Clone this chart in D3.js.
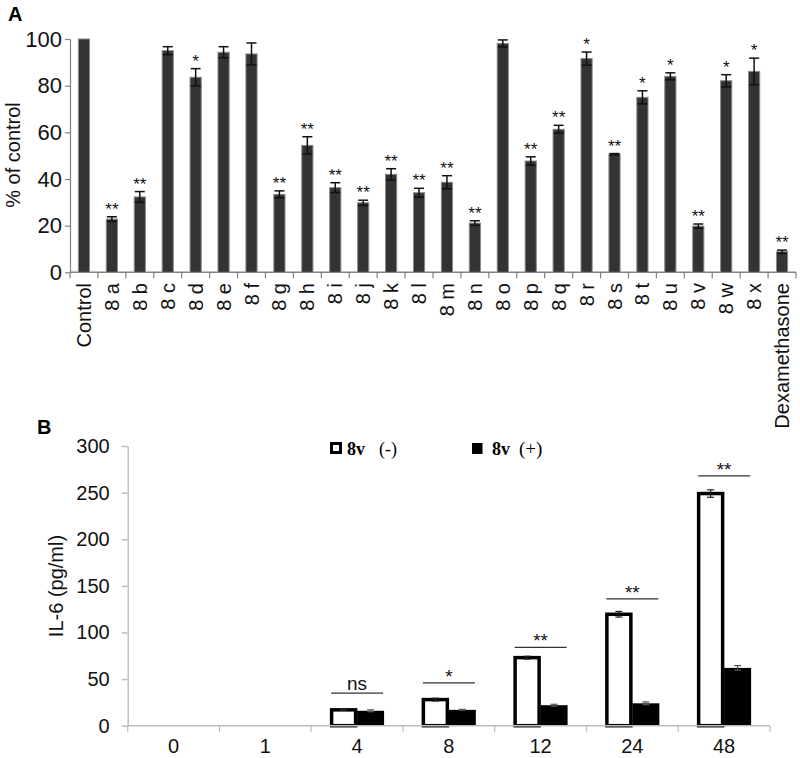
<!DOCTYPE html>
<html>
<head>
<meta charset="utf-8">
<script src="https://cdn.jsdelivr.net/npm/d3@7"></script>
<style>
  body { margin: 0; background: #fff; }
  svg { font-family: Arial, "Liberation Sans", sans-serif; }
</style>
</head>
<body>
<svg id="chart" width="800" height="758"></svg>
<script>
// ---- panel A data (% of control)
const catsA = ["Control", "8 a", "8 b", "8 c", "8 d", "8 e", "8 f", "8 g", "8 h", "8 i", "8 j", "8 k", "8 l",
  "8 m", "8 n", "8 o", "8 p", "8 q", "8 r", "8 s", "8 t", "8 u", "8 v", "8 w", "8 x", "Dexamethasone"];
const valsA = [100, 22.8, 32.3, 95, 83.6, 94.3, 93.6, 33.4, 54.4, 36.3, 29.8, 42, 34.1,
  38.6, 21.1, 98.1, 47.7, 61.3, 91.6, 50.6, 75, 84, 19.8, 82.1, 86.1, 8.8];
const errA = [0, 1, 2.3, 1.7, 3.7, 2.4, 4.7, 1.5, 3.7, 2.1, 1.1, 2.4, 1.9,
  2.8, 1, 1.5, 1.8, 1.7, 2.8, 0.3, 2.8, 1.5, 0.9, 2.6, 5.7, 0.7];
const sigA = ["", "**", "**", "", "*", "", "", "**", "**", "**", "**", "**", "**",
  "**", "**", "", "**", "**", "*", "**", "*", "*", "**", "*", "*", "**"];
const ticksA = [0, 20, 40, 60, 80, 100];

// ---- panel B data (IL-6 pg/ml)
const timesB = ["0", "1", "4", "8", "12", "24", "48"];
const seriesB = ["8v (-)", "8v (+)"];
const negB = [0, 0, 17, 28, 73, 119.5, 249];
const negErrB = [0, 0, 0.5, 1.5, 1.5, 3, 4];
const posB = [0, 0, 16, 17, 22, 24, 62];
const posErrB = [0, 0, 1, 0.5, 1, 1.5, 2.5];
const sigLevelB = [null, null, 35, 46, 84, 136, 268];
const sigTextB = ["", "", "ns", "*", "**", "**", "**"];
const ticksB = [0, 50, 100, 150, 200, 250, 300];

const svg = d3.select("#chart");

/* ================= panel A ================= */
const xA = d3.scaleBand().domain(catsA).range([70, 796]).padding(0);
const yA = d3.scaleLinear().domain([0, 100]).range([272.3, 39]);
const barWA = xA.bandwidth() * 0.4;
const gA = svg.append("g");

gA.append("text").attr("x", 8).attr("y", 21)
  .style("font-size", "20px").style("font-weight", "bold").text("A");

// y axis
const axA = gA.append("g")
  .attr("transform", "translate(70,0)")
  .call(d3.axisLeft(yA).tickValues(ticksA).tickSize(5).tickSizeOuter(0).tickPadding(3));
axA.selectAll("path, line").attr("stroke", "#808080").attr("stroke-width", 1.2);
axA.selectAll("text").style("font-size", "22px").attr("fill", "#111");

// x axis line + boundary ticks
gA.append("line").attr("x1", 70).attr("x2", 796)
  .attr("y1", yA(0)).attr("y2", yA(0)).attr("stroke", "#808080").attr("stroke-width", 1.5);
gA.selectAll(".tickA").data(catsA.map(d => xA(d)).concat([xA.range()[1]]))
  .join("line")
  .attr("x1", d => d).attr("x2", d => d)
  .attr("y1", yA(0)).attr("y2", yA(0) + 6)
  .attr("stroke", "#808080").attr("stroke-width", 1.2);

// bars
gA.selectAll(".barA").data(catsA).join("rect")
  .attr("x", d => xA(d) + (xA.bandwidth() - barWA) / 2)
  .attr("y", (d, i) => yA(valsA[i]))
  .attr("width", barWA)
  .attr("height", (d, i) => yA(0) - yA(valsA[i]))
  .attr("fill", "#333")
  .attr("stroke", "#8a8a8a").attr("stroke-width", 1);

// error bars
const errG = gA.selectAll(".errA").data(catsA.filter((d, i) => errA[i] > 0)).join("g")
  .attr("stroke", "#111").attr("stroke-width", 1.5);
errG.append("line")
  .attr("x1", d => xA(d) + xA.bandwidth() / 2).attr("x2", d => xA(d) + xA.bandwidth() / 2)
  .attr("y1", d => yA(valsA[catsA.indexOf(d)] - errA[catsA.indexOf(d)]))
  .attr("y2", d => yA(valsA[catsA.indexOf(d)] + errA[catsA.indexOf(d)]));
[-1, 1].forEach(s => {
  errG.append("line")
    .attr("x1", d => xA(d) + xA.bandwidth() / 2 - 5).attr("x2", d => xA(d) + xA.bandwidth() / 2 + 5)
    .attr("y1", d => yA(valsA[catsA.indexOf(d)] + s * errA[catsA.indexOf(d)]))
    .attr("y2", d => yA(valsA[catsA.indexOf(d)] + s * errA[catsA.indexOf(d)]));
});

// significance stars
gA.selectAll(".sigA").data(catsA).join("text")
  .attr("x", d => xA(d) + xA.bandwidth() / 2)
  .attr("y", (d, i) => yA(valsA[i] + errA[i]) - 2)
  .attr("text-anchor", "middle")
  .style("font-size", "17px").attr("fill", "#111")
  .text((d, i) => sigA[i]);

// rotated category labels
svg.append("clipPath").attr("id", "clipA")
  .append("rect").attr("x", 0).attr("y", 0).attr("width", 800).attr("height", 428);
gA.append("g").attr("clip-path", "url(#clipA)")
  .selectAll("text").data(catsA).join("text")
  .attr("transform", d => "translate(" + (xA(d) + xA.bandwidth() / 2) + ",283) rotate(-90)")
  .attr("text-anchor", "end").attr("dy", "0.35em")
  .style("font-size", "20px").attr("fill", "#111")
  .text(d => d);

gA.append("text")
  .attr("transform", "translate(20,155) rotate(-90)")
  .attr("text-anchor", "middle")
  .style("font-size", "20px").attr("fill", "#111")
  .text("% of control");

/* ================= panel B ================= */
const xB = d3.scaleBand().domain(timesB).range([127.7, 770]).padding(0);
const xSub = d3.scaleBand().domain(seriesB).range([0, xB.bandwidth()]).paddingInner(0).paddingOuter(0.7);
const yB = d3.scaleLinear().domain([0, 300]).range([725.7, 446]);
const gB = svg.append("g");

gB.append("text").attr("x", 37).attr("y", 434)
  .style("font-size", "20px").style("font-weight", "bold").text("B");

const axB = gB.append("g")
  .attr("transform", "translate(127.7,0)")
  .call(d3.axisLeft(yB).tickValues(ticksB).tickSize(6).tickSizeOuter(0).tickPadding(12));
axB.selectAll("path, line").attr("stroke", "#bdbdbd").attr("stroke-width", 1.5);
axB.selectAll("text").style("font-size", "20px").attr("fill", "#111");

const axBx = gB.append("g")
  .attr("transform", "translate(0," + yB(0) + ")")
  .call(d3.axisBottom(xB).tickSize(0).tickPadding(13));
axBx.select("path").remove();
axBx.selectAll("text").style("font-size", "20px").attr("fill", "#111");

// bars (drawn before the x axis line)
const grp = gB.insert("g", ":first-child").selectAll("g").data(timesB).join("g")
  .attr("transform", d => "translate(" + xB(d) + ",0)");
grp.append("rect")
  .attr("x", xSub(seriesB[1]))
  .attr("y", (d, i) => yB(posB[i]))
  .attr("width", xSub.bandwidth())
  .attr("height", (d, i) => yB(0) - yB(posB[i]))
  .attr("fill", "#000");
grp.filter((d, i) => negB[i] > 0).append("rect")
  .attr("x", xSub(seriesB[0]) + 1.5)
  .attr("y", d => yB(negB[timesB.indexOf(d)]))
  .attr("width", xSub.bandwidth() - 3)
  .attr("height", d => yB(0) - yB(negB[timesB.indexOf(d)]))
  .attr("fill", "#fff").attr("stroke", "#000").attr("stroke-width", 3.5);

// error bars panel B
function errB(sel, vals, errs, key) {
  const cx = xSub(key) + xSub.bandwidth() / 2;
  const e = sel.filter(d => errs[timesB.indexOf(d)] > 0).append("g")
    .attr("stroke", d => key === seriesB[0] ? "#222" : "#555").attr("stroke-width", 1.2);
  e.append("line").attr("x1", cx).attr("x2", cx)
    .attr("y1", d => yB(vals[timesB.indexOf(d)] - errs[timesB.indexOf(d)]))
    .attr("y2", d => yB(vals[timesB.indexOf(d)] + errs[timesB.indexOf(d)]));
  [-1, 1].forEach(s => {
    e.append("line").attr("x1", cx - 3.5).attr("x2", cx + 3.5)
      .attr("y1", d => yB(vals[timesB.indexOf(d)] + s * errs[timesB.indexOf(d)]))
      .attr("y2", d => yB(vals[timesB.indexOf(d)] + s * errs[timesB.indexOf(d)]));
  });
}
errB(grp, negB, negErrB, seriesB[0]);
errB(grp, posB, posErrB, seriesB[1]);

// x axis line with boundary ticks
gB.append("line").attr("x1", 127.7).attr("x2", 770)
  .attr("y1", yB(0)).attr("y2", yB(0)).attr("stroke", "#bdbdbd").attr("stroke-width", 1.5);
gB.selectAll(".tickB").data(timesB.map(d => xB(d)).concat([xB.range()[1]]))
  .join("line")
  .attr("x1", d => d).attr("x2", d => d)
  .attr("y1", yB(0)).attr("y2", yB(0) + 6)
  .attr("stroke", "#bdbdbd").attr("stroke-width", 1.2);

// significance lines
const sigG = gB.selectAll(".sigB").data(timesB.filter((d, i) => sigLevelB[i] !== null)).join("g");
sigG.append("line")
  .attr("x1", d => xB(d) + xB.bandwidth() / 2 - 26)
  .attr("x2", d => xB(d) + xB.bandwidth() / 2 + 26)
  .attr("y1", d => yB(sigLevelB[timesB.indexOf(d)]))
  .attr("y2", d => yB(sigLevelB[timesB.indexOf(d)]))
  .attr("stroke", "#333").attr("stroke-width", 1.3);
sigG.append("text")
  .attr("x", d => xB(d) + xB.bandwidth() / 2)
  .attr("y", d => yB(sigLevelB[timesB.indexOf(d)]) - (sigTextB[timesB.indexOf(d)] === "ns" ? 3 : 0))
  .attr("text-anchor", "middle")
  .style("font-size", "19px").attr("fill", "#111")
  .text(d => sigTextB[timesB.indexOf(d)]);

gB.append("text")
  .attr("transform", "translate(63,586) rotate(-90)")
  .attr("text-anchor", "middle")
  .style("font-size", "20px").attr("fill", "#111")
  .text("IL-6 (pg/ml)");

// legend
const leg = gB.append("g").style("font-family", "'Liberation Serif', 'Times New Roman', serif");
leg.append("rect").attr("x", 331.5).attr("y", 443.5).attr("width", 9).attr("height", 9)
  .attr("fill", "#fff").attr("stroke", "#000").attr("stroke-width", 3);
leg.append("text").attr("x", 347).attr("y", 455).style("font-size", "18px").style("font-weight", "bold").text("8v");
leg.append("text").attr("x", 379).attr("y", 455).style("font-size", "18px").text("(-)");
leg.append("rect").attr("x", 472).attr("y", 443).attr("width", 10.5).attr("height", 11).attr("fill", "#000");
leg.append("text").attr("x", 492).attr("y", 455).style("font-size", "18px").style("font-weight", "bold").text("8v");
leg.append("text").attr("x", 519).attr("y", 455).style("font-size", "19px").text("(+)");
</script>
</body>
</html>
